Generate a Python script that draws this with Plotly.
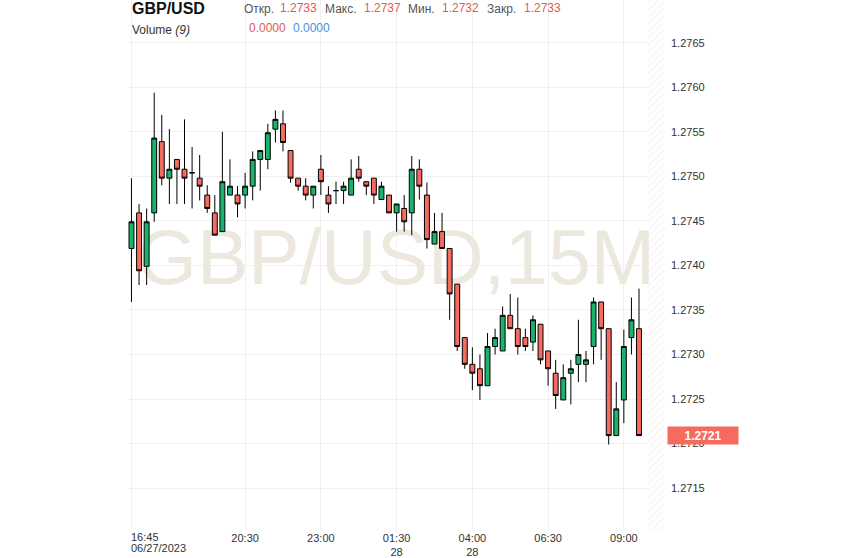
import pandas as pd
import plotly.graph_objects as go

START = '2023-06-27 16:45'
STEP = pd.Timedelta(minutes=15)

# GBP/USD 15M candles
opens = [1.27419, 1.27459, 1.27399, 1.27459, 1.27539, 1.27498, 1.27519, 1.27508, 1.27504, 1.27498,
         1.27479, 1.27459, 1.27438, 1.27479, 1.27479, 1.27479, 1.27489, 1.27519, 1.27519, 1.27553,
         1.27559, 1.27529, 1.27498, 1.27489, 1.27479, 1.27508, 1.27479, 1.27484, 1.27484, 1.27479,
         1.27508, 1.27494, 1.27498, 1.27474, 1.27479, 1.27459, 1.27464, 1.27459, 1.27508, 1.27479,
         1.27424, 1.27438, 1.27419, 1.27379, 1.27319, 1.27289, 1.27284, 1.27265, 1.27309, 1.27304,
         1.27344, 1.27329, 1.27319, 1.27314, 1.27334, 1.27304, 1.27279, 1.27249, 1.27279, 1.27289,
         1.27289, 1.27309, 1.27359, 1.27329, 1.27209, 1.27249, 1.27319, 1.27329]
highs = [1.27498, 1.27469, 1.27464, 1.27594, 1.27569, 1.27553, 1.27519, 1.27564, 1.27533, 1.27524,
         1.27490, 1.27479, 1.27550, 1.27519, 1.27489, 1.27504, 1.27528, 1.27529, 1.27559, 1.27574,
         1.27574, 1.27529, 1.27498, 1.27498, 1.27489, 1.27524, 1.27489, 1.27494, 1.27494, 1.27519,
         1.27523, 1.27494, 1.27498, 1.27494, 1.27479, 1.27469, 1.27479, 1.27523, 1.27519, 1.27493,
         1.27459, 1.27459, 1.27419, 1.27379, 1.27319, 1.27308, 1.27300, 1.27324, 1.27329, 1.27354,
         1.27368, 1.27364, 1.27329, 1.27344, 1.27334, 1.27304, 1.27294, 1.27289, 1.27294, 1.27339,
         1.27304, 1.27364, 1.27359, 1.27329, 1.27269, 1.27328, 1.27364, 1.27374]
lows = [1.27359, 1.27378, 1.27378, 1.27449, 1.27490, 1.27469, 1.27469, 1.27469, 1.27464, 1.27473,
        1.27459, 1.27434, 1.27438, 1.27479, 1.27454, 1.27464, 1.27473, 1.27484, 1.27508, 1.27538,
        1.27528, 1.27493, 1.27484, 1.27473, 1.27464, 1.27479, 1.27459, 1.27469, 1.27469, 1.27479,
        1.27494, 1.27479, 1.27469, 1.27474, 1.27459, 1.27438, 1.27438, 1.27434, 1.27474, 1.27419,
        1.27424, 1.27419, 1.27339, 1.27304, 1.27284, 1.27260, 1.27249, 1.27265, 1.27300, 1.27304,
        1.27329, 1.27300, 1.27304, 1.27304, 1.27289, 1.27265, 1.27239, 1.27249, 1.27244, 1.27269,
        1.27269, 1.27289, 1.27294, 1.27199, 1.27209, 1.27223, 1.27300, 1.27209]
closes = [1.27449, 1.27394, 1.27449, 1.27543, 1.27498, 1.27508, 1.27508, 1.27498, 1.27504, 1.27489,
          1.27464, 1.27434, 1.27494, 1.27489, 1.27469, 1.27489, 1.27519, 1.27529, 1.27549, 1.27564,
          1.27538, 1.27498, 1.27489, 1.27479, 1.27489, 1.27494, 1.27469, 1.27484, 1.27489, 1.27498,
          1.27498, 1.27489, 1.27479, 1.27489, 1.27459, 1.27469, 1.27449, 1.27508, 1.27489, 1.27429,
          1.27438, 1.27419, 1.27368, 1.27309, 1.27289, 1.27279, 1.27265, 1.27309, 1.27319, 1.27344,
          1.27329, 1.27309, 1.27309, 1.27339, 1.27294, 1.27284, 1.27254, 1.27274, 1.27284, 1.27300,
          1.27294, 1.27359, 1.27329, 1.27209, 1.27239, 1.27309, 1.27339, 1.27209]

tick_times = ['2023-06-27 16:45', '2023-06-27 20:30', '2023-06-27 23:00', '2023-06-28 01:30',
              '2023-06-28 04:00', '2023-06-28 06:30', '2023-06-28 09:00']
tick_labels = ['', '20:30', '23:00', '01:30<br>28', '04:00<br>28', '06:30', '09:00']
first_tick_label = ['16:45', '06/27/2023']

header_names = ['Откр.', 'Макс.', 'Мин.', 'Закр.']
header_values = ['1.2733', '1.2737', '1.2732', '1.2733']
volume_values = ['0.0000', '0.0000']

GREEN = '#19b36c'
RED = '#f76a5e'
FONT = 'Arial, Liberation Sans, sans-serif'

times = pd.date_range(START, periods=len(closes), freq=STEP)
y_range = [1.27103, 1.27698]
x_range = [times[0] - 0.46 * STEP, times[0] + 70.3 * STEP]

fig = go.Figure()

# hatched "future" zone on the right
fig.add_trace(go.Bar(
    x=[times[-1] + 2.6 * STEP], y=[y_range[1] - y_range[0]], base=[y_range[0]],
    width=[(2.8 * STEP).total_seconds() * 1000],
    marker=dict(color='white', line_width=0,
                pattern=dict(shape='/', fgcolor='#e4e4e4', bgcolor='white', size=5, solidity=0.2)),
    hoverinfo='skip', showlegend=False, zorder=0
))

# watermark behind the candles
fig.add_trace(go.Scatter(
    x=[x_range[0] + (x_range[1] - x_range[0]) / 2], y=[(y_range[0] + y_range[1]) / 2],
    mode='text', text=['GBP/USD,15M'],
    textfont=dict(family=FONT, size=77, color='#ece8dd'),
    hoverinfo='skip', showlegend=False, zorder=0
))

fig.add_trace(go.Candlestick(
    x=times, open=opens, high=highs, low=lows, close=closes,
    increasing=dict(fillcolor=GREEN, line=dict(color='black', width=1)),
    decreasing=dict(fillcolor=RED, line=dict(color='black', width=1)),
    showlegend=False, zorder=1
))

fig.update_layout(
    width=843, height=558,
    margin=dict(l=128, r=179, t=0, b=28),
    paper_bgcolor='white', plot_bgcolor='white',
    font=dict(family=FONT, size=11, color='#333'),
    boxgap=0.35, boxgroupgap=0,
    xaxis=dict(
        type='date', range=x_range, rangeslider_visible=False,
        tickvals=tick_times, ticktext=tick_labels, tickangle=0,
        showgrid=True, gridcolor='#f0f0f0', zeroline=False, showline=False,
        ticks='', tickfont=dict(size=11, color='#333'),
    ),
    yaxis=dict(
        side='right', range=y_range, dtick=0.0005, tick0=1.2700, tickformat='.4f',
        showgrid=True, gridcolor='#f0f0f0', zeroline=False, showline=False,
        ticks='', ticklabelstandoff=6, tickfont=dict(size=11, color='#333'),
    ),
    showlegend=False,
)

# x label for the first tick, left-aligned at the tick (two tight lines)
for k, line in enumerate(first_tick_label):
    fig.add_annotation(x=tick_times[0], y=0, xref='x', yref='paper', yanchor='middle', xanchor='left',
                       yshift=-7 - 11 * k, xshift=-2, text=line, showarrow=False,
                       font=dict(size=11, color='#333'))

# header text
def header(text, px, py, size=12, color='#555'):
    fig.add_annotation(x=0, y=1, xref='paper', yref='paper', xanchor='left', yanchor='middle',
                       xshift=px - 128, yshift=-py, text=text, showarrow=False,
                       font=dict(size=size, color=color))

header('<b>GBP/USD</b>', 130, 8, size=16, color='#111')
name_x = [242, 323, 406, 485]
value_x = [278, 362, 440, 522]
for name, val, nx, vx in zip(header_names, header_values, name_x, value_x):
    header(name, nx, 9)
    header(val, vx, 8, color='#e25a50')
header('Volume <i>(9)</i>', 130, 30, color='#333')
header(volume_values[0], 247, 28, color='#e25a50')
header(volume_values[1], 291, 28, color='#4a8fe0')

# last price tag
fig.add_annotation(x=1, y=closes[-1], xref='paper', yref='y', xanchor='left', yanchor='middle',
                   xshift=3, text='<b>%.4f</b>' % closes[-1], showarrow=False,
                   bgcolor=RED, width=68, height=15, borderpad=1,
                   font=dict(size=12, color='white'))

# page body has a default 8px margin; drop it so the figure sits at the corner
fig.write_html("out.html", config={'displayModeBar': False},
               post_script="document.body.style.margin='0';")
